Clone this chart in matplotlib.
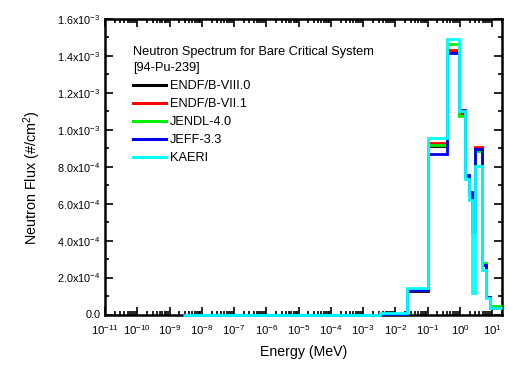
import matplotlib
matplotlib.use("Agg")
import matplotlib.pyplot as plt
from matplotlib.ticker import LogLocator, MultipleLocator, FuncFormatter, NullFormatter
import numpy as np

plt.rcParams['font.family'] = ['Liberation Sans', 'DejaVu Sans']
plt.rcParams['mathtext.fontset'] = 'custom'
plt.rcParams['mathtext.rm'] = 'Liberation Sans'
plt.rcParams['mathtext.default'] = 'regular'

# Energy group edges (MeV)
edges = [2.6e-9, 3.4e-3, 0.023, 0.1, 0.4, 0.9, 1.38, 1.94, 2.35, 2.83, 4.7, 6.5, 8.7, 20.0]

# Flux per group
endf8 = [0.0, 5e-6, 1.27e-4, 9.14e-4, 1.420e-3, 1.090e-3, 7.50e-4, 6.50e-4, 4.50e-4, 9.00e-4, 2.75e-4, 9.5e-5, 3.6e-5]
endf71 = [0.0, 5e-6, 1.30e-4, 9.30e-4, 1.432e-3, 1.084e-3, 7.50e-4, 6.50e-4, 4.50e-4, 9.07e-4, 2.75e-4, 9.5e-5, 3.6e-5]
jendl4 = [0.0, 5e-6, 1.30e-4, 9.20e-4, 1.464e-3, 1.076e-3, 7.45e-4, 6.45e-4, 4.50e-4, 8.85e-4, 2.80e-4, 9.5e-5, 4.4e-5]
jeff33 = [0.0, 5e-6, 1.34e-4, 8.67e-4, 1.414e-3, 1.105e-3, 7.58e-4, 6.63e-4, 4.47e-4, 8.95e-4, 2.70e-4, 9.5e-5, 3.6e-5]
kaeri = [0.0, 6e-6, 1.45e-4, 9.57e-4, 1.493e-3, 1.100e-3, 7.34e-4, 6.20e-4, 1.16e-4, 8.04e-4, 2.40e-4, 8.7e-5, 3.4e-5]

series = [
    ("ENDF/B-VIII.0", endf8, "#000000"),
    ("ENDF/B-VII.1", endf71, "#ff0000"),
    ("JENDL-4.0", jendl4, "#00ee00"),
    ("JEFF-3.3", jeff33, "#0000ee"),
    ("KAERI", kaeri, "#00ffff"),
]

fig = plt.figure(figsize=(5.09, 3.84), dpi=100)
ax = fig.add_axes([105/509, (384-314.5)/384, (502-105)/509, (314.5-19)/384])

for name, vals, col in series:
    ax.stairs(vals, edges, baseline=None, color=col, lw=2.0, label=name, zorder=3, clip_on=False)

ax.set_xscale('log')
ax.set_xlim(1e-11, 20)
ax.set_ylim(0, 1.6e-3)

ax.xaxis.set_major_locator(LogLocator(base=10, numticks=20))
ax.xaxis.set_minor_locator(LogLocator(base=10, subs=np.arange(2, 10), numticks=20))
ax.xaxis.set_minor_formatter(NullFormatter())

def xfmt(v, pos):
    e = int(round(np.log10(v)))
    return r'$10^{%d}$' % e
ax.xaxis.set_major_formatter(FuncFormatter(xfmt))

ax.yaxis.set_major_locator(MultipleLocator(2e-4))
ax.yaxis.set_minor_locator(MultipleLocator(1e-4))

def yfmt(v, pos):
    if v < 1e-12:
        return '0.0'
    e = int(np.floor(np.log10(v) + 1e-9))
    m = v / 10**e
    return r'$%.1fx10^{%d}$' % (m, e)
ax.yaxis.set_major_formatter(FuncFormatter(yfmt))

ax.tick_params(which='both', direction='in', top=True, right=True, width=1.2)
ax.tick_params(axis='y', labelsize=7.8)
ax.tick_params(axis='x', labelsize=8.2, pad=6)
ax.tick_params(which='major', length=5.5)
ax.tick_params(which='minor', length=3)
for s in ax.spines.values():
    s.set_linewidth(1.8)

ax.set_xlabel('Energy (MeV)', fontsize=10.2, labelpad=6)
ax.set_ylabel(r'Neutron Flux (#/cm$^2$)', fontsize=10.4)
ax.yaxis.set_label_coords(-0.157, 0.462)

leg = ax.legend(title='Neutron Spectrum for Bare Critical System\n[94-Pu-239]',
                loc='upper left', bbox_to_anchor=(0.07, 0.908), frameon=False,
                fontsize=9.2, title_fontsize=9.2, alignment='left',
                handlelength=2.6, handletextpad=0.3, labelspacing=0.47,
                borderaxespad=0, borderpad=0)
leg.get_title().set_linespacing(1.45)
for ln in leg.get_lines():
    ln.set_linewidth(2.2)

fig.savefig('out.png', dpi=100)
